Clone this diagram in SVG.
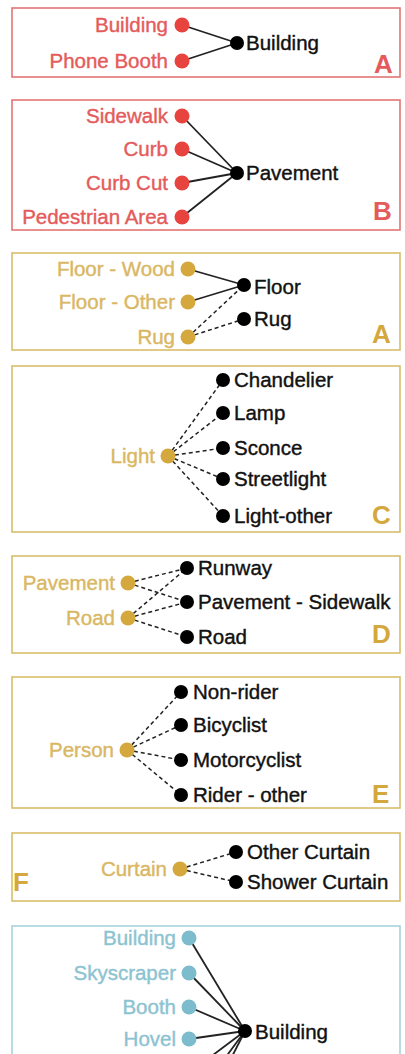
<svg xmlns="http://www.w3.org/2000/svg" width="405" height="1054" viewBox="0 0 405 1054">
<style>
text{font-family:"Liberation Sans",Arial,sans-serif;font-size:20.5px;stroke-width:0.4;paint-order:stroke}
.box{fill:none;stroke-width:1.6}
.rbox{stroke:#e37474}.ybox{stroke:#d8bd6a}.bbox{stroke:#a8d2dc}
.rt{fill:#e45b5b;stroke:#e45b5b;text-anchor:end}.yt{fill:#d9b763;stroke:#d9b763;text-anchor:end}.bt{fill:#8cc3d1;stroke:#8cc3d1;text-anchor:end}
.kt{fill:#111;stroke:#111}
.rd{fill:#e8443f}.yd{fill:#d4a83c}.bd{fill:#7cbccc}.kd{fill:#000}
.big{font-size:26px;font-weight:bold;stroke:none}
.sol{stroke:#222;stroke-width:1.8;fill:none}
.dash{stroke:#222;stroke-width:1.5;fill:none;stroke-dasharray:4 3}
</style>
<g id="boxes">
<rect class="box rbox" x="12" y="8" width="388" height="69"/>
<rect class="box rbox" x="12" y="100" width="388" height="130"/>
<rect class="box ybox" x="12" y="253" width="388" height="97"/>
<rect class="box ybox" x="12" y="366" width="388" height="166"/>
<rect class="box ybox" x="12" y="556" width="388" height="97"/>
<rect class="box ybox" x="12" y="677" width="388" height="131"/>
<rect class="box ybox" x="12" y="833" width="388" height="68"/>
<rect class="box bbox" x="12" y="926" width="388" height="160"/>
<text class="big" x="374" y="73" fill="#e45b5b">A</text>
<text class="big" x="373" y="220" fill="#e45b5b">B</text>
<text class="big" x="372" y="343" fill="#d4a83c">A</text>
<text class="big" x="372" y="524" fill="#d4a83c">C</text>
<text class="big" x="372" y="643" fill="#d4a83c">D</text>
<text class="big" x="372" y="803" fill="#d4a83c">E</text>
<text class="big" x="13" y="891" fill="#d4a83c">F</text>
</g>
<g id="connectors">
<line class="sol" x1="182" y1="25" x2="237" y2="43"/>
<line class="sol" x1="182" y1="61" x2="237" y2="43"/>
<line class="sol" x1="182" y1="116" x2="237" y2="173"/>
<line class="sol" x1="182" y1="149" x2="237" y2="173"/>
<line class="sol" x1="182" y1="183" x2="237" y2="173"/>
<line class="sol" x1="182" y1="217" x2="237" y2="173"/>
<line class="sol" x1="188" y1="269" x2="244" y2="285"/>
<line class="sol" x1="188" y1="302" x2="244" y2="285"/>
<line class="dash" x1="188" y1="337" x2="244" y2="285"/>
<line class="dash" x1="188" y1="337" x2="244" y2="319"/>
<line class="dash" x1="168" y1="456" x2="223" y2="380"/>
<line class="dash" x1="168" y1="456" x2="223" y2="413"/>
<line class="dash" x1="168" y1="456" x2="223" y2="448"/>
<line class="dash" x1="168" y1="456" x2="223" y2="479"/>
<line class="dash" x1="168" y1="456" x2="223" y2="516"/>
<line class="dash" x1="128" y1="583" x2="187" y2="568"/>
<line class="dash" x1="128" y1="583" x2="187" y2="602"/>
<line class="dash" x1="128" y1="618" x2="187" y2="568"/>
<line class="dash" x1="128" y1="618" x2="187" y2="602"/>
<line class="dash" x1="128" y1="618" x2="187" y2="637"/>
<line class="dash" x1="127" y1="750" x2="181" y2="692"/>
<line class="dash" x1="127" y1="750" x2="181" y2="725"/>
<line class="dash" x1="127" y1="750" x2="181" y2="760"/>
<line class="dash" x1="127" y1="750" x2="181" y2="795"/>
<line class="dash" x1="180" y1="869" x2="236" y2="852"/>
<line class="dash" x1="180" y1="869" x2="236" y2="882"/>
<line class="sol" x1="189" y1="938" x2="245" y2="1031"/>
<line class="sol" x1="189" y1="973" x2="245" y2="1031"/>
<line class="sol" x1="189" y1="1007" x2="245" y2="1031"/>
<line class="sol" x1="189" y1="1039" x2="245" y2="1031"/>
<line class="sol" x1="189" y1="1073" x2="245" y2="1031"/>
<line class="sol" x1="189" y1="1107" x2="245" y2="1031"/>
<line class="sol" x1="189" y1="1141" x2="245" y2="1031"/>
</g>
<g id="n-red-building"><circle class="rd" cx="182" cy="25" r="7.5"/><text class="rt" x="168" y="32">Building</text></g>
<g id="n-red-phonebooth"><circle class="rd" cx="182" cy="61" r="7.5"/><text class="rt" x="168" y="68">Phone Booth</text></g>
<g id="n-k-building"><circle class="kd" cx="237" cy="43" r="7"/><text class="kt" x="246" y="50">Building</text></g>
<g id="n-red-sidewalk"><circle class="rd" cx="182" cy="116" r="7.5"/><text class="rt" x="168" y="123">Sidewalk</text></g>
<g id="n-red-curb"><circle class="rd" cx="182" cy="149" r="7.5"/><text class="rt" x="168" y="156">Curb</text></g>
<g id="n-red-curbcut"><circle class="rd" cx="182" cy="183" r="7.5"/><text class="rt" x="168" y="190">Curb Cut</text></g>
<g id="n-red-ped"><circle class="rd" cx="182" cy="217" r="7.5"/><text class="rt" x="168" y="224">Pedestrian Area</text></g>
<g id="n-k-pavement"><circle class="kd" cx="237" cy="173" r="7"/><text class="kt" x="246" y="180">Pavement</text></g>
<g id="n-y-floorwood"><circle class="yd" cx="188" cy="269" r="7.5"/><text class="yt" x="175" y="276">Floor - Wood</text></g>
<g id="n-y-floorother"><circle class="yd" cx="188" cy="302" r="7.5"/><text class="yt" x="175" y="309">Floor - Other</text></g>
<g id="n-y-rug"><circle class="yd" cx="188" cy="337" r="7.5"/><text class="yt" x="175" y="344">Rug</text></g>
<g id="n-k-floor"><circle class="kd" cx="244" cy="285" r="7"/><text class="kt" x="254" y="294">Floor</text></g>
<g id="n-k-rug"><circle class="kd" cx="244" cy="319" r="7"/><text class="kt" x="254" y="326">Rug</text></g>
<g id="n-y-light"><circle class="yd" cx="168" cy="456" r="7.5"/><text class="yt" x="155" y="463">Light</text></g>
<g id="n-k-chandelier"><circle class="kd" cx="223" cy="380" r="7"/><text class="kt" x="234" y="387">Chandelier</text></g>
<g id="n-k-lamp"><circle class="kd" cx="223" cy="413" r="7"/><text class="kt" x="234" y="420">Lamp</text></g>
<g id="n-k-sconce"><circle class="kd" cx="223" cy="448" r="7"/><text class="kt" x="234" y="455">Sconce</text></g>
<g id="n-k-streetlight"><circle class="kd" cx="223" cy="479" r="7"/><text class="kt" x="234" y="486">Streetlight</text></g>
<g id="n-k-lightother"><circle class="kd" cx="223" cy="516" r="7"/><text class="kt" x="234" y="523">Light-other</text></g>
<g id="n-y-pavement"><circle class="yd" cx="128" cy="583" r="7.5"/><text class="yt" x="115" y="590">Pavement</text></g>
<g id="n-y-road"><circle class="yd" cx="128" cy="618" r="7.5"/><text class="yt" x="115" y="625">Road</text></g>
<g id="n-k-runway"><circle class="kd" cx="187" cy="568" r="7"/><text class="kt" x="198" y="575">Runway</text></g>
<g id="n-k-pavsidewalk"><circle class="kd" cx="187" cy="602" r="7"/><text class="kt" x="198" y="609">Pavement - Sidewalk</text></g>
<g id="n-k-road"><circle class="kd" cx="187" cy="637" r="7"/><text class="kt" x="198" y="644">Road</text></g>
<g id="n-y-person"><circle class="yd" cx="127" cy="750" r="7.5"/><text class="yt" x="114" y="757">Person</text></g>
<g id="n-k-nonrider"><circle class="kd" cx="181" cy="692" r="7"/><text class="kt" x="193" y="699">Non-rider</text></g>
<g id="n-k-bicyclist"><circle class="kd" cx="181" cy="725" r="7"/><text class="kt" x="193" y="732">Bicyclist</text></g>
<g id="n-k-motorcyclist"><circle class="kd" cx="181" cy="760" r="7"/><text class="kt" x="193" y="767">Motorcyclist</text></g>
<g id="n-k-riderother"><circle class="kd" cx="181" cy="795" r="7"/><text class="kt" x="193" y="802">Rider - other</text></g>
<g id="n-y-curtain"><circle class="yd" cx="180" cy="869" r="7.5"/><text class="yt" x="167" y="876">Curtain</text></g>
<g id="n-k-othercurtain"><circle class="kd" cx="236" cy="852" r="7"/><text class="kt" x="247" y="859">Other Curtain</text></g>
<g id="n-k-showercurtain"><circle class="kd" cx="236" cy="882" r="7"/><text class="kt" x="247" y="889">Shower Curtain</text></g>
<g id="n-b-building"><circle class="bd" cx="189" cy="938" r="7.5"/><text class="bt" x="176" y="945">Building</text></g>
<g id="n-b-skyscraper"><circle class="bd" cx="189" cy="973" r="7.5"/><text class="bt" x="176" y="980">Skyscraper</text></g>
<g id="n-b-booth"><circle class="bd" cx="189" cy="1007" r="7.5"/><text class="bt" x="176" y="1014">Booth</text></g>
<g id="n-b-hovel"><circle class="bd" cx="189" cy="1039" r="7.5"/><text class="bt" x="176" y="1046">Hovel</text></g>
<g id="n-k-building2"><circle class="kd" cx="245" cy="1031" r="7"/><text class="kt" x="255" y="1039">Building</text></g>
</svg>
